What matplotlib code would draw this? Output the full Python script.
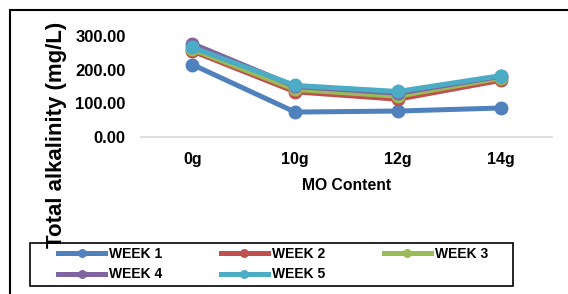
import matplotlib.pyplot as plt
from matplotlib.patches import Rectangle

plt.rcParams['font.family'] = ['Liberation Sans', 'DejaVu Sans']
plt.rcParams['font.weight'] = 'bold'

categories = ["0g", "10g", "12g", "14g"]
week1 = [215, 74, 77, 86]
week2 = [255, 134, 112, 168]
week3 = [260, 141, 121, 175]
week4 = [277, 150, 130, 180]
week5 = [266, 153, 135, 182]
series = [("WEEK 1", week1, "#4F81BD"), ("WEEK 2", week2, "#C0504D"),
          ("WEEK 3", week3, "#9BBB59"), ("WEEK 4", week4, "#8064A2"),
          ("WEEK 5", week5, "#4BACC6")]

fig = plt.figure(figsize=(5.68, 2.94), dpi=100)
ax = fig.add_axes([0.248, 0.534, 0.724, 0.344])

x = range(len(categories))
lines = []
for name, vals, col in series:
    ln, = ax.plot(x, vals, color=col, lw=3.6, marker="o", ms=9, label=name, clip_on=False)
    lines.append(ln)

ax.set_xlim(-0.5, 3.5)
ax.set_ylim(0, 300)
ax.set_yticks([0, 100, 200, 300])
ax.set_yticklabels(["%.2f" % v for v in [0, 100, 200, 300]], fontsize=12, fontweight="bold")
ax.set_xticks(list(x))
ax.set_xticklabels(categories, fontsize=11.5, fontweight="bold")
ax.tick_params(length=0)
ax.tick_params(axis="x", pad=11)
ax.tick_params(axis="y", pad=11)
for s in ["top", "right", "left"]:
    ax.spines[s].set_visible(False)
ax.spines["bottom"].set_color("#d9d9d9")
ax.spines["bottom"].set_linewidth(1.2)

ax.set_xlabel("MO Content", fontsize=11.3, fontweight="bold", labelpad=8)
fig.text(0.099, 0.54, "Total alkalinity (mg/L)", rotation=90, fontsize=16,
         fontweight="bold", ha="center", va="center")

# row-wise legend order: W1 W2 W3 / W4 W5
order = [0, 3, 1, 4, 2]
leg = fig.legend([lines[i] for i in order], [series[i][0] for i in order],
                 loc="center", bbox_to_anchor=(0.481, 0.101), ncol=3, fontsize=10,
                 frameon=False, handlelength=3.4, handletextpad=0.3,
                 columnspacing=4.2, labelspacing=0.45, markerscale=0.6)
for t in leg.get_texts():
    t.set_fontweight("bold")

fig.patches.append(Rectangle((30 / 568, 8 / 294), 483 / 568, 43 / 294, transform=fig.transFigure,
                             fill=False, edgecolor="black", lw=1.2))
fig.patches.append(Rectangle((0.018, -0.1), 1.1, 1.066, transform=fig.transFigure,
                             fill=False, edgecolor="black", lw=1.5))

fig.savefig("out.png", dpi=100)
